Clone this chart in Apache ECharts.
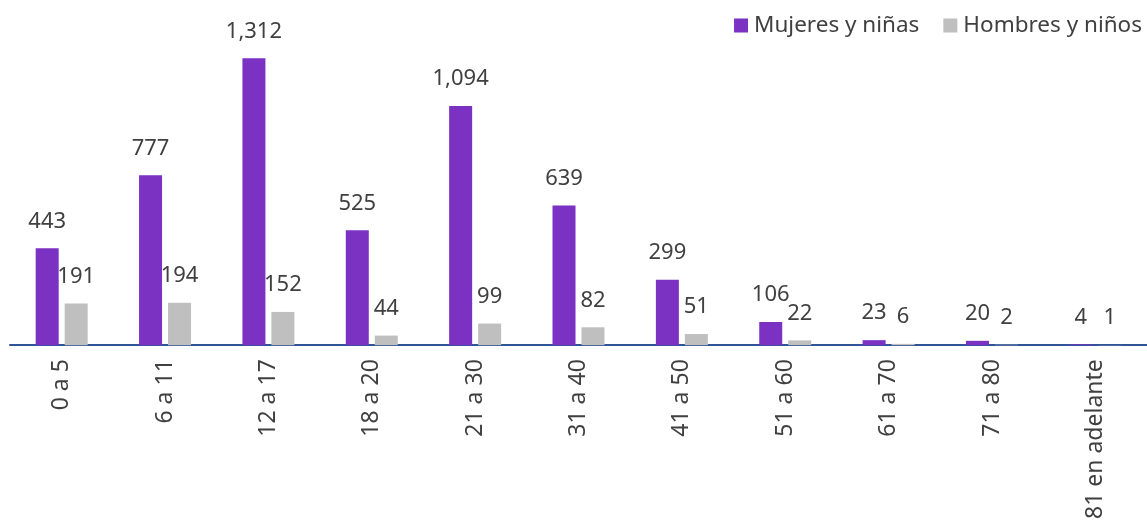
<!DOCTYPE html>
<html>
<head>
<meta charset="utf-8">
<script src="https://cdn.jsdelivr.net/npm/echarts@6/dist/echarts.min.js"></script>
<style>
  html, body { margin: 0; padding: 0; background: #fff; }
  #chart { width: 1147px; height: 522px; }
</style>
</head>
<body>
<div id="chart"></div>
<script>
// rangos de edad
const categorias = ['0 a 5', '6 a 11', '12 a 17', '18 a 20', '21 a 30', '31 a 40', '41 a 50', '51 a 60', '61 a 70', '71 a 80', '81 en adelante'];
const mujeres = [443, 777, 1312, 525, 1094, 639, 299, 106, 23, 20, 4];
const hombres = [191, 194, 152, 44, 99, 82, 51, 22, 6, 2, 1];

const fuente = '"Noto Sans", sans-serif';
const fmt = p => p.value.toLocaleString('en-US');

const chart = echarts.init(document.getElementById('chart'));
chart.setOption({
  backgroundColor: '#ffffff',
  animation: false,
  textStyle: { fontFamily: fuente },
  legend: {
    right: 0,
    top: 9,
    itemWidth: 14,
    itemHeight: 14,
    itemGap: 24,
    icon: 'rect',
    textStyle: { fontSize: 22.5, color: '#404040', fontFamily: fuente, padding: [0, 0, 0, 1] },
    data: ['Mujeres y niñas', 'Hombres y niños']
  },
  grid: { left: 10, right: 0, top: 39, bottom: 176 },
  xAxis: {
    type: 'category',
    data: categorias,
    axisLine: { lineStyle: { color: '#2F5597', width: 2 } },
    axisTick: { show: false },
    axisLabel: { rotate: 90, fontSize: 23, color: '#404040', margin: 14, fontFamily: fuente, interval: 0 }
  },
  yAxis: {
    type: 'value',
    min: 0,
    max: 1400,
    show: false,
    splitLine: { show: false }
  },
  series: [
    {
      name: 'Mujeres y niñas',
      type: 'bar',
      data: mujeres,
      barWidth: 23,
      barGap: '26%',
      itemStyle: { color: '#7B31C1' },
      label: { show: true, position: 'top', distance: 16, fontSize: 22, color: '#404040', fontFamily: fuente, formatter: fmt }
    },
    {
      name: 'Hombres y niños',
      type: 'bar',
      data: hombres,
      barWidth: 23,
      itemStyle: { color: '#BFBFBF' },
      label: { show: true, position: 'top', distance: 16, fontSize: 22, color: '#404040', fontFamily: fuente, formatter: fmt }
    }
  ]
});
</script>
</body>
</html>
